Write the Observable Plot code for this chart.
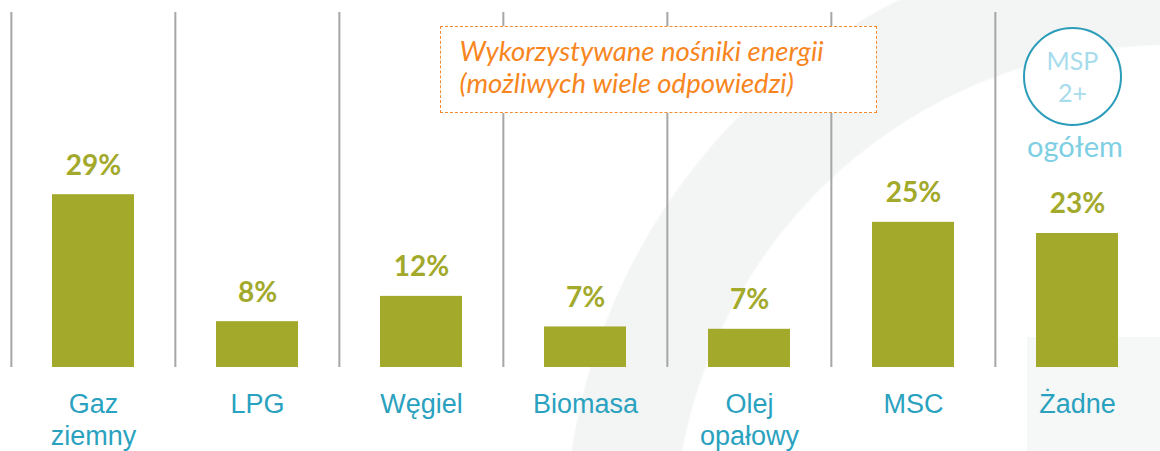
<!DOCTYPE html>
<html>
<head>
<meta charset="utf-8">
<script src="https://cdn.jsdelivr.net/npm/d3@7"></script>
<script src="https://cdn.jsdelivr.net/npm/@observablehq/plot@0.6"></script>
<style>
  html, body { margin: 0; padding: 0; background: #ffffff; }
  #wrap {
    position: relative; width: 1160px; height: 451px; overflow: hidden;
    background: radial-gradient(circle at 1170px 541px, rgba(243,244,244,0) 495px, #f3f4f4 497px, #f3f4f4 604px, rgba(243,244,244,0) 606px);
  }
  #deco { position: absolute; left: 1027px; top: 337px; width: 133px; height: 114px; background: #f6f7f7; }
  #chart { position: absolute; left: 0; top: 0; }
  #titlebox {
    position: absolute; left: 440px; top: 26px; width: 437px; height: 87px; box-sizing: border-box;
    border: 1.5px dashed #f58a2e; background: #ffffff;
    font-family: Lato, "Open Sans", sans-serif; font-style: italic;
    font-size: 27.5px; line-height: 32px; color: #f7861f;
  }
  #titlebox .inner { position: absolute; left: 18.5px; top: 7.5px; white-space: nowrap; }
  #badge {
    position: absolute; left: 1023px; top: 27px; width: 95px; height: 95px;
    border: 2px solid #2b9cb9; border-radius: 50%; background: #ffffff;
    font-family: Lato, "Open Sans", sans-serif; color: #a6dcec; font-size: 25px;
    text-align: center; line-height: 32px;
  }
  #badge .inner { position: absolute; left: 0; right: 0; top: 15px; }
  #ogolem {
    position: absolute; left: 1015px; width: 120px; top: 128px; text-align: center;
    font-family: Lato, "Open Sans", sans-serif; color: #7ecfe4; font-size: 29px;
  }
</style>
</head>
<body>
<div id="wrap">
  <div id="deco"></div>
  <div id="chart"></div>
  <div id="titlebox"><div class="inner">Wykorzystywane nośniki energii<br>(możliwych wiele odpowiedzi)</div></div>
  <div id="badge"><div class="inner">MSP<br>2+</div></div>
  <div id="ogolem">ogółem</div>
</div>
<script>
const categories = ["Gaz\nziemny", "LPG", "Węgiel", "Biomasa", "Olej\nopałowy", "MSC", "Żadne"];
const values = [29.4, 7.8, 12.1, 6.9, 6.5, 24.7, 22.8];
const valueLabels = ["29%", "8%", "12%", "7%", "7%", "25%", "23%"];

const data = categories.map((c, i) => ({category: c, value: values[i], label: valueLabels[i]}));

const W = 1160, H = 451;
const mL = 10, mR = 0, mT = 12, mB = 84;
const band = (W - mL - mR) / categories.length;

const chart = Plot.plot({
  width: W,
  height: H,
  marginLeft: mL,
  marginRight: mR,
  marginTop: mT,
  marginBottom: mB,
  style: {background: "transparent", overflow: "visible"},
  x: {type: "band", domain: categories, padding: 0, axis: null},
  y: {domain: [0, 60.4], axis: null},
  marks: [
    Plot.ruleX(categories, {x: d => d, dx: -band / 2, stroke: "#a6a6a6", strokeWidth: 2}),
    Plot.barY(data, {x: "category", y: "value", fill: "#a2a92b", insetLeft: 41, insetRight: 41}),
    Plot.text(data, {
      x: "category", y: "value", text: "label", lineAnchor: "bottom", dy: -20,
      fill: "#a2a92b", fontWeight: "bold", fontSize: 28, fontFamily: "Lato, 'Open Sans', sans-serif"
    }),
    Plot.text(categories, {
      x: d => d, text: d => d, frameAnchor: "bottom", lineAnchor: "top", dy: 22,
      lineHeight: 1.2, fill: "#2aa2bf", fontSize: 27, fontFamily: "'Liberation Sans', Arial, sans-serif"
    })
  ]
});
document.getElementById("chart").appendChild(chart);
</script>
</body>
</html>
